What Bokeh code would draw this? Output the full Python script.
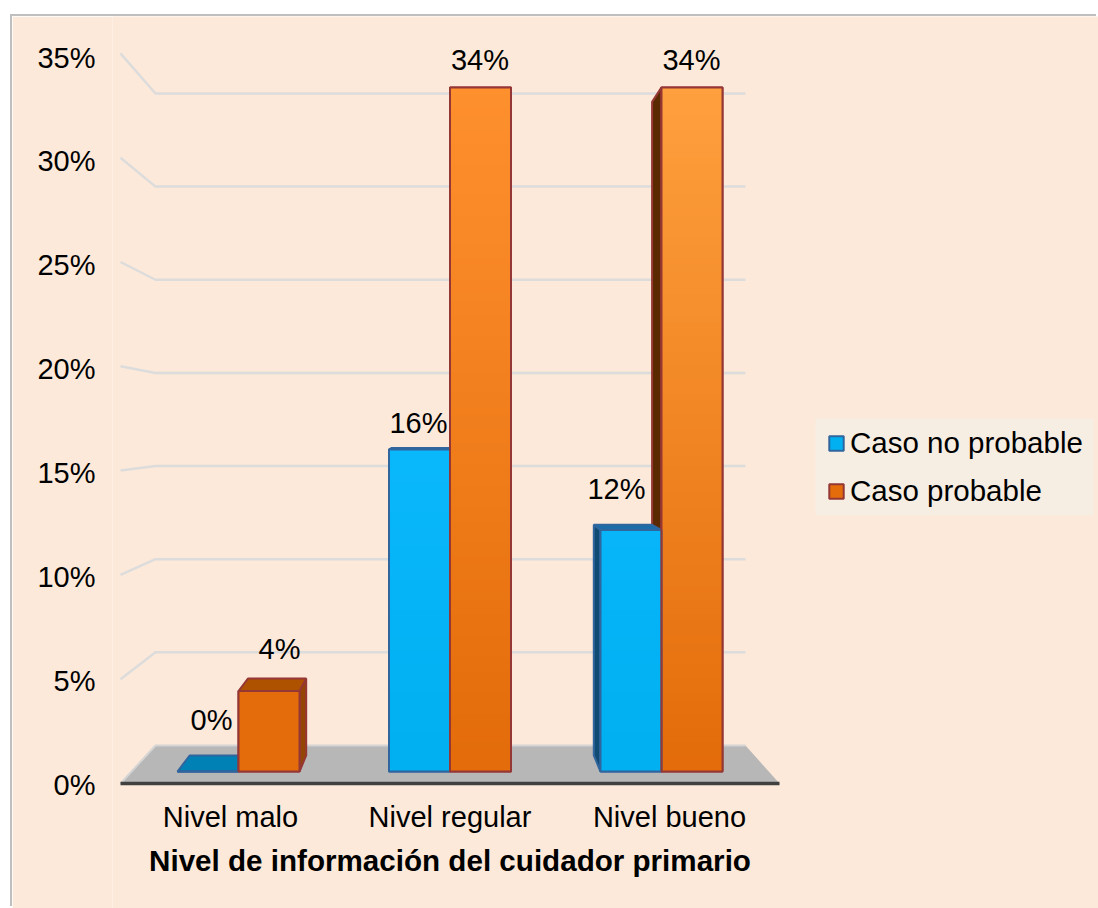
import numpy as np
from bokeh.core.properties import value
from bokeh.embed import file_html
from bokeh.models import FixedTicker, Legend, LegendItem, PrintfTickFormatter, Range1d
from bokeh.plotting import figure
from bokeh.resources import INLINE

# Chart data
categories = ["Nivel malo", "Nivel regular", "Nivel bueno"]
caso_no_probable = [0, 16, 12]
caso_probable = [4, 34, 34]
y_ticks = [0, 5, 10, 15, 20, 25, 30, 35]
x_title = "Nivel de información del cuidador primario"
series_names = ["Caso no probable", "Caso probable"]

# Page geometry, in browser pixels
FONT = "Liberation Sans"
TEXT_PX = "29px"
LEGEND_PX = "29.5px"
TITLE_PX = "29.6px"
BG = "#FDE9D9"
ORIGIN_X, ORIGIN_Y = 12, 16
LEFT, RIGHT, TOP, BOTTOM = 112, 1098, 16, 908
CENTER_X, BAR_SPACING, AXIS_SPACING = 449.5, 211.5, 219.5
AXIS_BASE, AXIS_UNIT = 784.0, 20.77
BAR_BASE, BAR_UNIT = 771.0, 20.12
BAR_WIDTH = 61 / BAR_SPACING
DEPTH = 0.0445
VANISH_Y = (BAR_BASE - 411) / BAR_UNIT

# Perspective planes for the walls and the floor
BACK_BASE, BACK_UNIT, BACK_L, BACK_R = 745.0, 18.63, 155, 745
FRONT_BASE, FRONT_UNIT, FRONT_L, FRONT_R = 783.0, 20.86, 120, 779


def back_y(v):
    return BACK_BASE - BACK_UNIT * v


def front_y(v):
    return FRONT_BASE - FRONT_UNIT * v


def recede(x, v):
    """Project a point of the bars' front plane onto their back plane."""
    return x + DEPTH * (1 - x), v + DEPTH * (VANISH_Y - v)


p = figure(
    width=RIGHT - ORIGIN_X,
    height=908 - ORIGIN_Y,
    x_range=Range1d((LEFT - CENTER_X) / AXIS_SPACING + 1, (RIGHT - CENTER_X) / AXIS_SPACING + 1),
    y_range=Range1d((AXIS_BASE - BOTTOM) / AXIS_UNIT, (AXIS_BASE - TOP) / AXIS_UNIT),
    output_backend="svg",
    toolbar_location=None,
    min_border_left=LEFT - ORIGIN_X,
    min_border_right=0,
    min_border_top=0,
    min_border_bottom=0,
    background_fill_color=BG,
    border_fill_color=BG,
    outline_line_color=None,
    margin=(ORIGIN_Y, 0, 0, ORIGIN_X),
    styles={"box-shadow": "-2px -2px 0 0 #BFBFBF"},
)
p.extra_x_ranges = {
    "bar": Range1d((LEFT - CENTER_X) / BAR_SPACING + 1, (RIGHT - CENTER_X) / BAR_SPACING + 1),
    "page": Range1d(LEFT, RIGHT),
}
p.extra_y_ranges = {
    "bar": Range1d((BAR_BASE - BOTTOM) / BAR_UNIT, (BAR_BASE - TOP) / BAR_UNIT),
    "page": Range1d(BOTTOM, TOP),
}
p.grid.visible = False
on_page = dict(x_range_name="page", y_range_name="page")
on_bars = dict(x_range_name="bar", y_range_name="bar")

# Axes: only their labels are visible; the category axis sits on the front floor edge
yaxis, xaxis = p.yaxis[0], p.xaxis[0]
yaxis.ticker = FixedTicker(ticks=y_ticks)
yaxis.formatter = PrintfTickFormatter(format="%d%%")
yaxis.major_label_standoff = 11
xaxis.ticker = FixedTicker(ticks=list(range(len(categories))))
xaxis.major_label_overrides = dict(enumerate(categories))
xaxis.major_label_standoff = 10
xaxis.fixed_location = 0
for axis in (xaxis, yaxis):
    axis.axis_line_color = None
    axis.major_tick_line_color = None
    axis.minor_tick_line_color = None
    axis.major_label_text_font = FONT
    axis.major_label_text_font_size = TEXT_PX
    axis.major_label_text_color = "#000000"

# Floor and wall lines
p.patch(
    [FRONT_L, BACK_L, BACK_R, FRONT_R],
    [front_y(0), back_y(0), back_y(0), front_y(0)],
    fill_color="#B7B7B7", line_color=None, **on_page,
)
p.line([FRONT_L, BACK_L, BACK_R], [front_y(0), back_y(0), back_y(0)],
       line_color="#D4D4D4", line_width=2, **on_page)
wall_ticks = [t for t in y_ticks if t > 0]
p.multi_line(
    [[FRONT_L, BACK_L, BACK_R] for _ in wall_ticks],
    [[front_y(t), back_y(t), back_y(t)] for t in wall_ticks],
    line_color="#DCDCDC", line_width=2.5, **on_page,
)
p.line([FRONT_L, FRONT_R], [front_y(0), front_y(0)], line_color="#404040", line_width=3.5, **on_page)

# Panel behind the legend entries
p.quad(left=[815], right=[1093], top=[418], bottom=[515], fill_color="#F6EDE3", line_color=None, **on_page)

# Category title, centred under the bars rather than under the whole frame
p.text(x=[CENTER_X], y=[860], text=[x_title], text_align="center", text_baseline="middle",
       text_font=value(FONT), text_font_size=TITLE_PX, text_font_style="bold",
       text_color="#000000", **on_page)


def faces(x_left, x_right, v, fill_side, fill_top, line):
    """Draw the visible side and top faces of one bar."""
    if v > 0 and x_left > 1 + 1e-6:
        bx, bv = recede(x_left, v)
        bx0, bv0 = recede(x_left, 0)
        p.patch([x_left, bx, bx0, x_left], [v, bv, bv0, 0],
                fill_color=fill_side, line_color=line, line_width=2, **on_bars)
    if v > 0 and x_right < 1 - 1e-6:
        bx, bv = recede(x_right, v)
        bx0, bv0 = recede(x_right, 0)
        p.patch([x_right, bx, bx0, x_right], [v, bv, bv0, 0],
                fill_color=fill_side, line_color=line, line_width=2, **on_bars)
    if v < VANISH_Y:
        lx, lv = recede(x_left, v)
        rx, rv = recede(x_right, v)
        p.patch([x_left, lx, rx, x_right], [v, lv, rv, v],
                fill_color=fill_top, line_color=line, line_width=2, **on_bars)


def gradient(v, low, high, full):
    """A vertical colour ramp for a bar of height v, reaching `high` at height `full`."""
    rows = np.linspace(0, v / full, 96)[:, None]
    rgb = np.array(low)[None, :] + rows * (np.array(high) - np.array(low))[None, :]
    rgba = np.dstack([rgb[:, None, :], np.full((96, 1, 1), 255)]).astype(np.uint8)
    return rgba.reshape(96, 1, 4).view(dtype=np.uint32).reshape(96, 1)


LINE_BLUE, LINE_ORANGE = "#31659E", "#953735"
x_blue = [i - BAR_WIDTH / 2 for i in range(3)]
x_orange = [i + BAR_WIDTH / 2 for i in range(3)]
half = BAR_WIDTH / 2

# Depth faces: orange first, since the blue bars stand in front of them
side_orange = ["#954503", "#5B2900", "#5B2900"]
top_orange = ["#AF5200", "#AF5200", "#AF5200"]
for x, v, side, top in zip(x_orange, caso_probable, side_orange, top_orange):
    faces(x - half, x + half, v, side, top, LINE_ORANGE)
top_blue = ["#0081B5", "#1C6CA8", "#1C6CA8"]
for x, v, top in zip(x_blue, caso_no_probable, top_blue):
    faces(x - half, x + half, v, "#0F4B73", top, LINE_BLUE)

# Front faces
blue = p.vbar(x=x_blue, top=caso_no_probable, bottom=0, width=BAR_WIDTH,
              fill_color="#00B0F0", line_color=LINE_BLUE, line_width=2, **on_bars)
orange = p.vbar(x=x_orange, top=caso_probable, bottom=0, width=BAR_WIDTH,
                fill_color="#E46C0A", line_color=LINE_ORANGE, line_width=2, **on_bars)

orange_tops = [(228, 108, 10), (255, 144, 46), (255, 160, 62)]
for x, v, high in zip(x_orange, caso_probable, orange_tops):
    p.image_rgba(image=[gradient(v, (228, 108, 10), high, 34)], x=x - half, y=0, dw=BAR_WIDTH, dh=v, **on_bars)
for x, v in zip(x_blue, caso_no_probable):
    if v > 0:
        p.image_rgba(image=[gradient(v, (0, 176, 240), (10, 184, 252), 16)], x=x - half, y=0, dw=BAR_WIDTH, dh=v, **on_bars)
p.vbar(x=x_blue, top=caso_no_probable, bottom=0, width=BAR_WIDTH,
       fill_color=None, line_color=LINE_BLUE, line_width=2, **on_bars)
p.vbar(x=x_orange, top=caso_probable, bottom=0, width=BAR_WIDTH,
       fill_color=None, line_color=LINE_ORANGE, line_width=2, **on_bars)

# Value labels, nudged clear of the depth faces
label_dx_blue, label_dy_blue = [3.5, -1, -14.5], [-52, -27, -41]
label_dx_orange, label_dy_orange = [10.5, -0.5, -0.5], [-42, -27, -27]
for xs, vals, dx, dy in [(x_blue, caso_no_probable, label_dx_blue, label_dy_blue),
                         (x_orange, caso_probable, label_dx_orange, label_dy_orange)]:
    p.text(x=xs, y=vals, text=[f"{v}%" for v in vals], x_offset=dx, y_offset=dy,
           text_font=value(FONT), text_font_size=TEXT_PX, text_color="#000000",
           text_align="center", text_baseline="middle", **on_bars)

legend = Legend(
    items=[LegendItem(label=series_names[0], renderers=[blue]),
           LegendItem(label=series_names[1], renderers=[orange])],
    location=(715, 400),
    orientation="vertical",
    background_fill_alpha=0,
    border_line_color=None,
    label_text_font=FONT,
    label_text_font_size=LEGEND_PX,
    label_text_color="#000000",
    glyph_width=18,
    glyph_height=18,
    label_standoff=5,
    padding=12,
    spacing=14,
    margin=0,
)
p.add_layout(legend, "center")

open("out.html", "w").write(file_html(p, INLINE))
